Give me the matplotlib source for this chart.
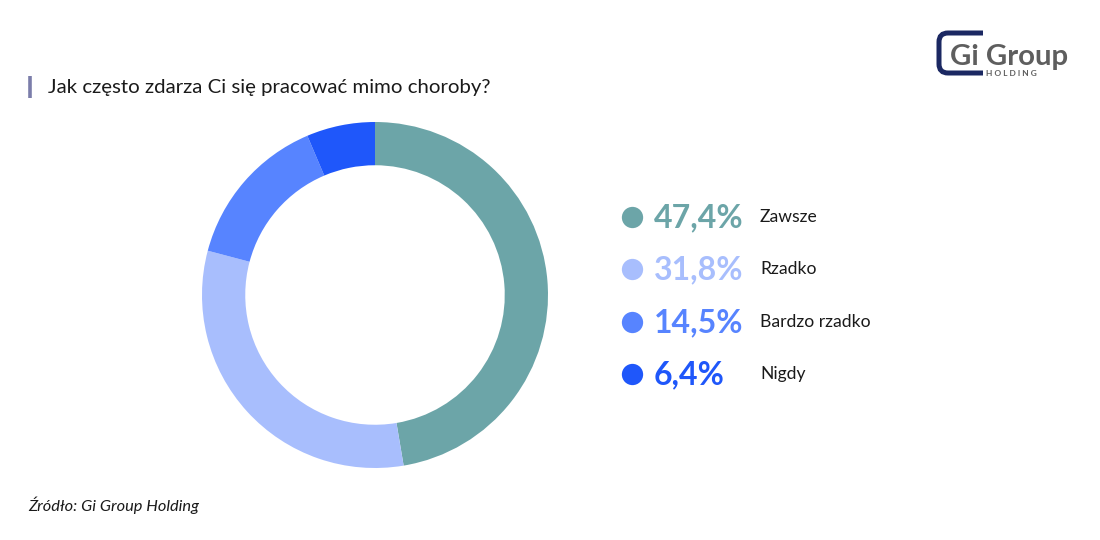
import matplotlib
matplotlib.use("Agg")
import matplotlib.pyplot as plt
from matplotlib.path import Path
from matplotlib.patches import PathPatch

# Data
categories = ["Zawsze", "Rzadko", "Bardzo rzadko", "Nigdy"]
values = [47.4, 31.8, 14.5, 6.4]
colors = ["#6CA5A8", "#A8BEFD", "#5784FF", "#1F57FA"]
title = "Jak często zdarza Ci się pracować mimo choroby?"
source = "Źródło: Gi Group Holding"

W, H = 1100, 540
fig = plt.figure(figsize=(W / 100, H / 100), dpi=100)
fig.patch.set_facecolor("white")
FONT = ["Lato", "DejaVu Sans"]

def fx(x):
    return x / W

def fy(y):
    return 1 - y / H

# Donut
cx, cy, r = 375, 295, 173
ax = fig.add_axes([fx(cx - r), fy(cy + r), 2 * r / W, 2 * r / H])
ax.pie(values, colors=colors, startangle=90, counterclock=False,
       wedgeprops=dict(width=0.25, linewidth=0), radius=1)
ax.set_xlim(-1, 1)
ax.set_ylim(-1, 1)
ax.set_aspect("equal")
ax.axis("off")

# Overlay axes in pixel coordinates
ov = fig.add_axes([0, 0, 1, 1], zorder=5)
ov.set_xlim(0, W)
ov.set_ylim(H, 0)
ov.axis("off")
ov.patch.set_alpha(0)

# Title bar and title
ov.plot([30, 30], [76, 98], color="#7B7DAA", lw=2.6, solid_capstyle="butt")
ov.text(48, 87, title, fontsize=14.7, family=FONT, color="#1A1A1A",
        va="center", ha="left")

# Legend
y0, dy = 217, 52.3
for i, (cat, v, c) in enumerate(zip(categories, values, colors)):
    y = y0 + i * dy
    ov.scatter([632], [y], s=235, color=c, linewidths=0)
    ov.text(654, y + 1, f"{v:.1f}".replace(".", ",") + "%", fontsize=23,
            family=FONT, fontweight="bold", color=c, va="center", ha="left")
    ov.text(760, y, cat, fontsize=12.6, family=FONT, color="#1A1A1A",
            va="center", ha="left")

# Source
ov.text(28, 505, source, fontsize=11.8, family=FONT, style="italic",
        color="#1A1A1A", va="center", ha="left")

# Logo
verts = [(983, 33), (948, 33), (939, 33), (939, 42), (939, 64), (939, 73),
         (948, 73), (983, 73)]
codes = [Path.MOVETO, Path.LINETO, Path.CURVE3, Path.CURVE3, Path.LINETO,
         Path.CURVE3, Path.CURVE3, Path.LINETO]
ov.add_patch(PathPatch(Path(verts, codes), fill=False, edgecolor="#1B2862",
                       lw=3.6, capstyle="butt"))
ov.text(950, 57, "Gi Group", fontsize=21.2, family=FONT, fontweight="bold",
        color="#5E5E5E", va="center", ha="left")
ov.text(986, 74, "H O L D I N G", fontsize=6, family=FONT, fontweight="bold",
        color="#5E5E5E", va="center", ha="left")

fig.savefig("out.png", dpi=100, facecolor="white")
